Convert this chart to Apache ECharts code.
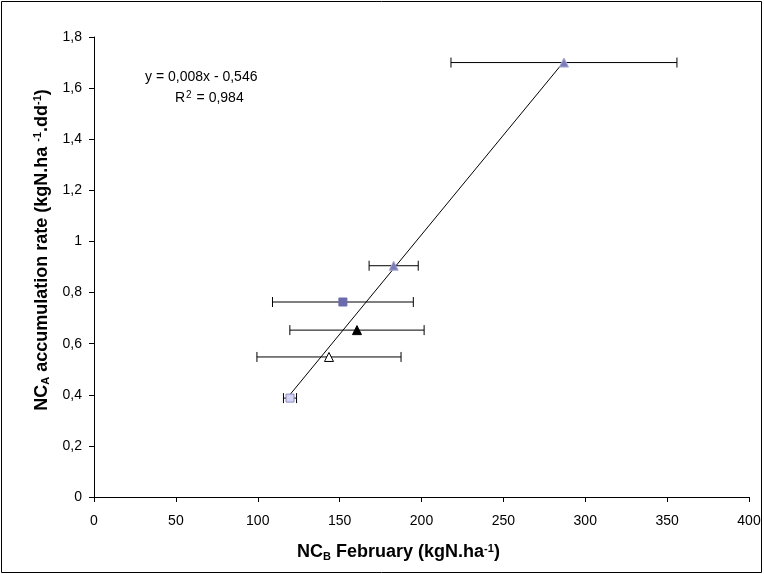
<!DOCTYPE html>
<html>
<head>
<meta charset="utf-8">
<script src="https://cdn.jsdelivr.net/npm/echarts@6/dist/echarts.min.js"></script>
<style>
  html, body { margin: 0; padding: 0; background: #fff; }
  #chart { width: 764px; height: 574px; }
</style>
</head>
<body>
<div id="chart"></div>
<script>
// NC in February (kgN/ha) vs NC accumulation rate, with horizontal SD bars
const ncFeb = [287, 183, 152, 160.6, 143.5, 119.7];
const ncRate = [1.70, 0.905, 0.763, 0.653, 0.548, 0.387];
const ncFebErr = [69, 15, 43, 41, 44, 4];
const xTicks = [0, 50, 100, 150, 200, 250, 300, 350, 400];
const yTicks = [0, 0.2, 0.4, 0.6, 0.8, 1, 1.2, 1.4, 1.6, 1.8];
const equationText = ['y = 0,008x - 0,546', 'R', '2', ' = 0,984'];

// marker look for each point, in the same order as the data
const markerStyles = [
  { symbol: 'triangle', color: '#7c7cbc', border: '#a8a8d8' },
  { symbol: 'triangle', color: '#7c7cbc', border: '#a8a8d8' },
  { symbol: 'rect', color: '#6a6aae', border: '#6a6aae' },
  { symbol: 'triangle', color: '#000000', border: '#000000' },
  { symbol: 'triangle', color: '#ffffff', border: '#000000' },
  { symbol: 'rect', color: '#d4d4f4', border: '#8c8cc8' }
];

// least-squares trend line over the points
const n = ncFeb.length;
const mx = ncFeb.reduce((a, b) => a + b, 0) / n;
const my = ncRate.reduce((a, b) => a + b, 0) / n;
let sxy = 0, sxx = 0;
for (let i = 0; i < n; i++) {
  sxy += (ncFeb[i] - mx) * (ncRate[i] - my);
  sxx += (ncFeb[i] - mx) * (ncFeb[i] - mx);
}
const slope = sxy / sxx;
const intercept = my - slope * mx;
const xMin = Math.min(...ncFeb), xMax = Math.max(...ncFeb);
const trend = [[xMin, slope * xMin + intercept], [xMax, slope * xMax + intercept]];

const fmt = v => String(+v.toFixed(1)).replace('.', ',');
const font = '"Liberation Sans", Arial, sans-serif';

const titleRich = {
  b: { fontFamily: font, fontSize: 18, fontWeight: 'bold', color: '#000' },
  s: { fontFamily: font, fontSize: 11, fontWeight: 'bold', color: '#000', verticalAlign: 'bottom', padding: [8, 0, 0, 0] },
  p: { fontFamily: font, fontSize: 11, fontWeight: 'bold', color: '#000', verticalAlign: 'top', padding: [0, 0, 8, 0] }
};

const chart = echarts.init(document.getElementById('chart'), null, { renderer: 'canvas' });

const pointSeries = ncFeb.map((x, i) => ({
  type: 'scatter',
  data: [[x, ncRate[i]]],
  symbol: markerStyles[i].symbol,
  symbolSize: markerStyles[i].symbol === 'rect' ? 8 : 9,
  itemStyle: { color: markerStyles[i].color, borderColor: markerStyles[i].border, borderWidth: 1, opacity: 1 },
  z: 5,
  silent: true
}));

chart.setOption({
  animation: false,
  backgroundColor: '#fff',
  grid: { left: 94, right: 15, top: 37, bottom: 77, containLabel: false },
  xAxis: {
    type: 'value', min: 0, max: 400, interval: 50,
    axisLine: { lineStyle: { color: '#000', width: 1 } },
    axisTick: { show: true, inside: false, length: 5, lineStyle: { color: '#000' } },
    splitLine: { show: false },
    axisLabel: { color: '#000', fontFamily: font, fontSize: 14, margin: 17 },
    name: '{b|NC}{s|B}{b| February (kgN.ha}{p|-1}{b|)}',
    nameLocation: 'middle', nameGap: 46,
    nameTextStyle: { rich: titleRich, padding: [0, 46, 0, 0] }
  },
  yAxis: {
    type: 'value', min: 0, max: 1.8, interval: 0.2,
    axisLine: { show: true, lineStyle: { color: '#000', width: 1 } },
    axisTick: { show: true, inside: false, length: 5, lineStyle: { color: '#000' } },
    splitLine: { show: false },
    axisLabel: { color: '#000', fontFamily: font, fontSize: 14, margin: 12, formatter: fmt },
    name: '{b|NC}{s|A}{b| accumulation rate (kgN.ha }{p|-1}{b|.dd}{p|-1}{b|)}',
    nameLocation: 'middle', nameGap: 35, nameRotate: 90,
    nameTextStyle: { rich: titleRich, padding: [0, 0, 0, 34] }
  },
  graphic: [
    { type: 'rect', shape: { x: 1.5, y: 1.5, width: 760, height: 571 }, style: { fill: 'none', stroke: '#000', lineWidth: 1 }, silent: true },
    { type: 'text', left: 145, top: 70, style: { text: equationText[0], font: '14px ' + font, fill: '#000' } },
    { type: 'text', left: 175, top: 90, style: {
        text: '{a|' + equationText[1] + '}{p|' + equationText[2] + '}{a|' + equationText[3] + '}',
        rich: {
          a: { font: '14px ' + font, fill: '#000' },
          p: { font: '10px ' + font, fill: '#000', verticalAlign: 'top', padding: [0, 1, 7, 1] }
        }
      } }
  ],
  series: [
    {
      type: 'line',
      data: trend,
      symbol: 'none',
      lineStyle: { color: '#000', width: 1 },
      z: 3,
      silent: true
    },
    {
      type: 'custom',
      data: ncFeb.map((x, i) => [x, ncRate[i], ncFebErr[i]]),
      z: 4,
      silent: true,
      renderItem: (params, api) => {
        const x = api.value(0), y = api.value(1), e = api.value(2);
        const p1 = api.coord([x - e, y]);
        const p2 = api.coord([x + e, y]);
        const cap = 5;
        const st = { stroke: '#000', lineWidth: 1 };
        return {
          type: 'group',
          children: [
            { type: 'line', shape: { x1: p1[0], y1: p1[1], x2: p2[0], y2: p2[1] }, style: st },
            { type: 'line', shape: { x1: p1[0], y1: p1[1] - cap, x2: p1[0], y2: p1[1] + cap }, style: st },
            { type: 'line', shape: { x1: p2[0], y1: p2[1] - cap, x2: p2[0], y2: p2[1] + cap }, style: st }
          ]
        };
      }
    },
    ...pointSeries
  ]
});
</script>
</body>
</html>
